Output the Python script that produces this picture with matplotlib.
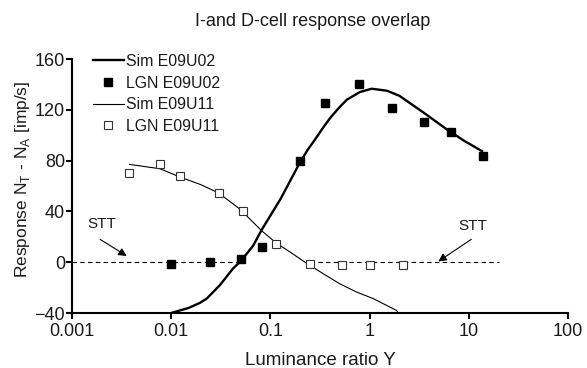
import matplotlib
matplotlib.use("Agg")
import matplotlib.pyplot as plt
from matplotlib.lines import Line2D

plt.rcParams['font.family'] = ['Liberation Sans', 'DejaVu Sans']

# LGN E09U02 (filled squares)
lgn02_x = [0.01, 0.0245, 0.05, 0.082, 0.20, 0.355, 0.78, 1.67, 3.5, 6.6, 13.8]
lgn02_y = [-1.5, 0.5, 2.5, 11.7, 80, 125, 140.5, 121.4, 110.4, 102.5, 83.6]

# Sim E09U02 (thick line)
sim02_x = [0.01, 0.015, 0.0195, 0.0228, 0.031, 0.042, 0.051, 0.067, 0.081, 0.127,
           0.158, 0.2, 0.24, 0.29, 0.34, 0.4, 0.49, 0.59, 0.8, 1.05, 1.5, 2.0, 3.47,
           6.0, 8.8, 13.9]
sim02_y = [-40, -36, -32, -28.7, -18, -5, 1.4, 13, 25, 50,
           64, 79, 89, 98, 106, 113.5, 121.5, 128, 134, 136.6, 135, 131, 118,
           104.6, 96, 87]

# LGN E09U11 (open squares)
lgn11_x = [0.00376, 0.0077, 0.0123, 0.030, 0.053, 0.115, 0.25, 0.525, 1.0, 2.15]
lgn11_y = [70.2, 77, 67.6, 54.2, 40, 14.6, -1.4, -2, -2, -2]

# Sim E09U11 (thin line)
sim11_x = [0.0038, 0.0077, 0.0123, 0.02, 0.03, 0.049, 0.081, 0.115, 0.158, 0.233,
           0.34, 0.5, 0.74, 1.09, 1.87, 1.95]
sim11_y = [77, 73.6, 67, 61, 54.5, 42, 25, 15, 8, -1,
           -9, -17, -23.5, -28.7, -38, -40]

# STT threshold segments
stt_left_x = [0.001, 0.05]
stt_right_x = [0.25, 20]
stt_y = [0, 0]

xticks = [0.001, 0.01, 0.1, 1, 10, 100]
xticklabels = ['0.001', '0.01', '0.1', '1', '10', '100']
yticks = [-40, 0, 40, 80, 120, 160]

TXT = '#1a1a1a'

fig = plt.figure(figsize=(5.87, 3.68), dpi=100)
ax = fig.add_axes([72/587, 1 - 313/368, (568-72)/587, (313-59)/368])

ax.plot(stt_left_x, stt_y, color='black', lw=0.8, ls=(0, (4, 3)), zorder=1)
ax.plot(stt_right_x, stt_y, color='black', lw=0.8, ls=(0, (4, 3)), zorder=1)

ax.plot(sim02_x, sim02_y, color='black', lw=1.7, zorder=2, solid_capstyle='butt',
        solid_joinstyle='round')
ax.plot(sim11_x, sim11_y, color='black', lw=0.8, zorder=2, solid_joinstyle='round')
ax.plot(lgn02_x, lgn02_y, ls='none', marker='s', ms=6.3, mfc='black', mec='black', zorder=3)
ax.plot(lgn11_x, lgn11_y, ls='none', marker='s', ms=6.3, mfc='white', mec='#333333', mew=0.8, zorder=3)

ax.set_xscale('log')
ax.set_xlim(0.001, 100)
ax.set_ylim(-40, 160)
ax.set_xticks(xticks)
ax.set_xticklabels(xticklabels)
ax.xaxis.set_minor_locator(matplotlib.ticker.NullLocator())
ax.set_yticks(yticks)
ax.spines['top'].set_visible(False)
ax.spines['right'].set_visible(False)
for s in ['left', 'bottom']:
    ax.spines[s].set_linewidth(1.5)
ax.tick_params(direction='out', length=4, width=1.5, labelsize=13, colors='black')
ax.tick_params(axis='x', pad=3)
ax.tick_params(axis='y', pad=1)
for lbl in ax.get_xticklabels() + ax.get_yticklabels():
    lbl.set_color(TXT)

ax.set_xlabel('Luminance ratio Y', fontsize=13.5, color=TXT, labelpad=9)
ax.set_ylabel(r'Response N$_\mathregular{T}$ - N$_\mathregular{A}$ [imp/s]', fontsize=12.5,
              color=TXT, labelpad=2, y=0.528)
fig.text(313/587, 1 - 26/368, 'I-and D-cell response overlap', ha='center', va='baseline',
         fontsize=13, color=TXT)

arrow = dict(arrowstyle='-|>', lw=0.8, color='black', mutation_scale=12, shrinkA=0, shrinkB=0)
ax.annotate('', xy=(0.00356, 4.9), xytext=(0.00192, 18), arrowprops=arrow)
ax.text(0.002, 30.3, 'STT', fontsize=11, ha='center', va='center', color=TXT)
ax.annotate('', xy=(4.93, 0.6), xytext=(10.6, 18), arrowprops=arrow)
ax.text(10.9, 28.2, 'STT', fontsize=11, ha='center', va='center', color=TXT)

handles = [
    Line2D([], [], color='black', lw=1.7),
    Line2D([], [], ls='none', marker='s', ms=6.3, mfc='black', mec='black'),
    Line2D([], [], color='black', lw=0.8),
    Line2D([], [], ls='none', marker='s', ms=6.3, mfc='white', mec='#333333', mew=0.8),
]
labels = ['Sim E09U02', 'LGN E09U02', 'Sim E09U11', 'LGN E09U11']
leg = fig.legend(handles, labels, loc='upper left', bbox_to_anchor=(93/587, 1 - 54/368),
                 frameon=False, fontsize=11.4, handlelength=1.95, handletextpad=0.15,
                 labelspacing=0.42, borderpad=0, borderaxespad=0)
for t in leg.get_texts():
    t.set_color(TXT)

fig.savefig('out.png', dpi=100)
